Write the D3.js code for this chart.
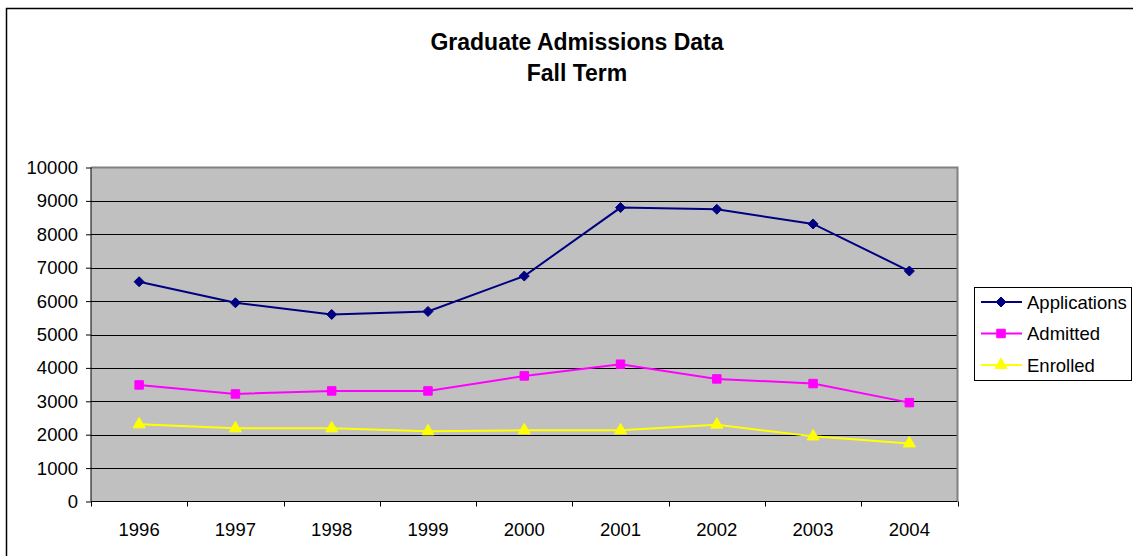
<!DOCTYPE html>
<html>
<head>
<meta charset="utf-8">
<script src="https://cdn.jsdelivr.net/npm/d3@7"></script>
<style>
  body { margin: 0; background: #fff; }
  svg { display: block; font-family: "Liberation Sans", Arial, sans-serif; }
</style>
</head>
<body>
<svg width="1133" height="556"></svg>
<script>
const years = ["1996", "1997", "1998", "1999", "2000", "2001", "2002", "2003", "2004"];
const applications = [6580, 5950, 5600, 5690, 6750, 8800, 8750, 8310, 6900];
const admitted = [3490, 3220, 3310, 3310, 3760, 4110, 3670, 3530, 2960];
const enrolled = [2310, 2190, 2190, 2100, 2130, 2130, 2300, 1950, 1740];
const yTicks = [0, 1000, 2000, 3000, 4000, 5000, 6000, 7000, 8000, 9000, 10000];

// square diamond (equal width and height), like the spreadsheet marker
const squareDiamond = {
  draw(context, size) {
    const r = Math.sqrt(size / 2);
    context.moveTo(0, -r);
    context.lineTo(r, 0);
    context.lineTo(0, r);
    context.lineTo(-r, 0);
    context.closePath();
  }
};

const series = [
  { name: "Applications", values: applications, color: "#000080", symbol: squareDiamond, size: 50 },
  { name: "Admitted", values: admitted, color: "#ff00ff", symbol: d3.symbolSquare, size: 72 },
  { name: "Enrolled", values: enrolled, color: "#ffff00", symbol: d3.symbolTriangle, size: 64 }
];

const svg = d3.select("svg");

const plot = { left: 91, top: 167.5, right: 957.5, bottom: 501.5 };

const x = d3.scaleBand().domain(years).range([plot.left, plot.right]);
const y = d3.scaleLinear().domain([0, 10000]).range([plot.bottom, plot.top]);

// outer chart border (only left and top show in the frame)
svg.append("rect")
  .attr("x", 6.5).attr("y", 8.5)
  .attr("width", 1140).attr("height", 560)
  .attr("fill", "none").attr("stroke", "#000").attr("stroke-width", 1.5);

// title
const title = svg.append("text")
  .attr("text-anchor", "middle")
  .attr("font-weight", "bold")
  .attr("font-size", 23);
title.append("tspan").attr("x", 577).attr("y", 50).text("Graduate Admissions Data");
title.append("tspan").attr("x", 577).attr("y", 81).text("Fall Term");

// plot background
svg.append("rect")
  .attr("x", plot.left).attr("y", plot.top)
  .attr("width", plot.right - plot.left).attr("height", plot.bottom - plot.top)
  .attr("fill", "#c0c0c0");

// gridlines
svg.append("g")
  .selectAll("line")
  .data(yTicks.filter(d => d > 0 && d < 10000))
  .join("line")
  .attr("x1", plot.left).attr("x2", plot.right)
  .attr("y1", d => Math.round(y(d)) + 0.5).attr("y2", d => Math.round(y(d)) + 0.5)
  .attr("stroke", "#000").attr("stroke-width", 1);

// top and right plot border
svg.append("path")
  .attr("d", `M${plot.left},${plot.top}H${plot.right}V${plot.bottom}`)
  .attr("fill", "none").attr("stroke", "#808080").attr("stroke-width", 2);

// y axis
const yAxis = svg.append("g")
  .attr("transform", `translate(${plot.left},0)`)
  .call(d3.axisLeft(y).tickValues(yTicks).tickSize(5).tickPadding(8).tickFormat(d3.format("d")));
yAxis.selectAll("text").attr("font-size", 18.5).attr("fill", "#000").attr("font-family", "Liberation Sans, Arial, sans-serif");
yAxis.selectAll("line").attr("stroke", "#000");
yAxis.select(".domain").attr("stroke", "#000").attr("d", `M0,${plot.top}V${plot.bottom}`);

// x axis: ticks at category boundaries
const xAxis = svg.append("g").attr("transform", `translate(0,${plot.bottom})`);
xAxis.append("line")
  .attr("x1", plot.left).attr("x2", plot.right)
  .attr("stroke", "#000");
const bounds = years.map(d => x(d)).concat([x(years[years.length - 1]) + x.bandwidth()]);
xAxis.selectAll(".tick")
  .data(bounds)
  .join("line")
  .attr("x1", d => Math.round(d) + 0.5).attr("x2", d => Math.round(d) + 0.5)
  .attr("y1", 0).attr("y2", 5)
  .attr("stroke", "#000");
xAxis.selectAll("text")
  .data(years)
  .join("text")
  .attr("x", d => x(d) + x.bandwidth() / 2)
  .attr("y", 34)
  .attr("text-anchor", "middle")
  .attr("font-size", 18.5)
  .text(d => d);

// series lines and markers
const cx = d => x(d) + x.bandwidth() / 2;
const line = d3.line().x((v, i) => cx(years[i])).y(v => y(v));

series.forEach(s => {
  svg.append("path")
    .datum(s.values)
    .attr("d", line)
    .attr("fill", "none")
    .attr("stroke", s.color)
    .attr("stroke-width", 2);
  svg.append("g")
    .selectAll("path")
    .data(s.values)
    .join("path")
    .attr("transform", (v, i) => `translate(${cx(years[i])},${y(v)})`)
    .attr("d", d3.symbol().type(s.symbol).size(s.size))
    .attr("fill", s.color)
    .attr("stroke", s.color);
});

// legend
const legend = svg.append("g");
legend.append("rect")
  .attr("x", 974.5).attr("y", 287.5)
  .attr("width", 157).attr("height", 93)
  .attr("fill", "#fff").attr("stroke", "#000").attr("stroke-width", 1);
const item = legend.selectAll("g")
  .data(series)
  .join("g")
  .attr("transform", (d, i) => `translate(0,${302 + i * 31.5})`);
item.append("line")
  .attr("x1", 981).attr("x2", 1022)
  .attr("stroke", d => d.color).attr("stroke-width", 2);
item.append("path")
  .attr("transform", "translate(1001,0)")
  .attr("d", d => d3.symbol().type(d.symbol).size(d.size)())
  .attr("fill", d => d.color)
  .attr("stroke", d => d.color);
item.append("text")
  .attr("x", 1027).attr("y", 6.5)
  .attr("font-size", 18.5)
  .text(d => d.name);
</script>
</body>
</html>
